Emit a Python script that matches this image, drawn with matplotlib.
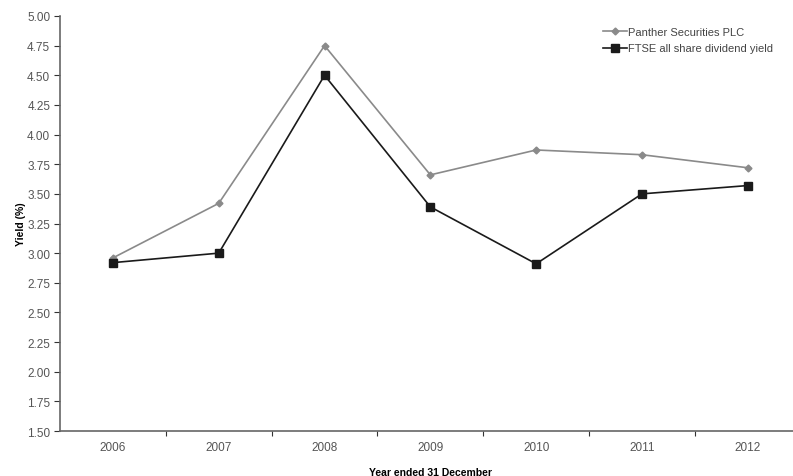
import matplotlib.pyplot as plt
from matplotlib.ticker import FixedLocator, NullFormatter

plt.rcParams['font.family'] = ['Liberation Sans', 'DejaVu Sans']

years = ['2006', '2007', '2008', '2009', '2010', '2011', '2012']
panther = [2.96, 3.42, 4.75, 3.66, 3.87, 3.83, 3.72]
ftse = [2.92, 3.00, 4.50, 3.39, 2.91, 3.50, 3.57]
yticks = [1.50 + 0.25 * i for i in range(15)]

grey = '#555555'
x = list(range(len(years)))

fig = plt.figure(figsize=(7.93, 4.77), dpi=100)
ax = fig.add_axes([0.0757, 0.0943, 0.934, 0.8701])

ax.plot(x, panther, '-D', color='#8a8a8a', lw=1.2, ms=3.5, label='Panther Securities PLC')
ax.plot(x, ftse, '-s', color='#1a1a1a', lw=1.2, ms=5.5, label='FTSE all share dividend yield')

ax.set_xlim(-0.5, len(years) - 0.5)
ax.set_ylim(1.5, 5.0)
ax.set_yticks(yticks)
ax.set_yticklabels(['%.2f' % v for v in yticks])

# category boundaries get the tick marks, labels sit at the centres
ax.xaxis.set_major_locator(FixedLocator([i + 0.5 for i in x[:-1]]))
ax.xaxis.set_major_formatter(NullFormatter())
ax.xaxis.set_minor_locator(FixedLocator(x))
ax.set_xticklabels(years, minor=True)
ax.tick_params(axis='x', which='minor', length=0, pad=7)
ax.tick_params(axis='x', which='major', length=3.5, direction='out', color='#333333')
ax.tick_params(axis='y', length=4, direction='out', color='#333333', pad=3)
ax.tick_params(which='both', labelsize=8.5, labelcolor=grey)

for s in ['top', 'right']:
    ax.spines[s].set_visible(False)
for s in ['left', 'bottom']:
    ax.spines[s].set_color('#666666')
    ax.spines[s].set_linewidth(1.2)

ax.set_ylabel('Yield (%)', fontsize=7.5, fontweight='bold', labelpad=1)
ax.set_xlabel('Year ended 31 December', fontsize=7.5, fontweight='bold', labelpad=10.5)

ax.legend(loc='upper left', bbox_to_anchor=(0.7195, 0.998), frameon=False,
          fontsize=8, labelcolor='#444444', handlelength=2.2, handletextpad=0.1,
          labelspacing=0.6)

fig.savefig('out.png', dpi=100)
